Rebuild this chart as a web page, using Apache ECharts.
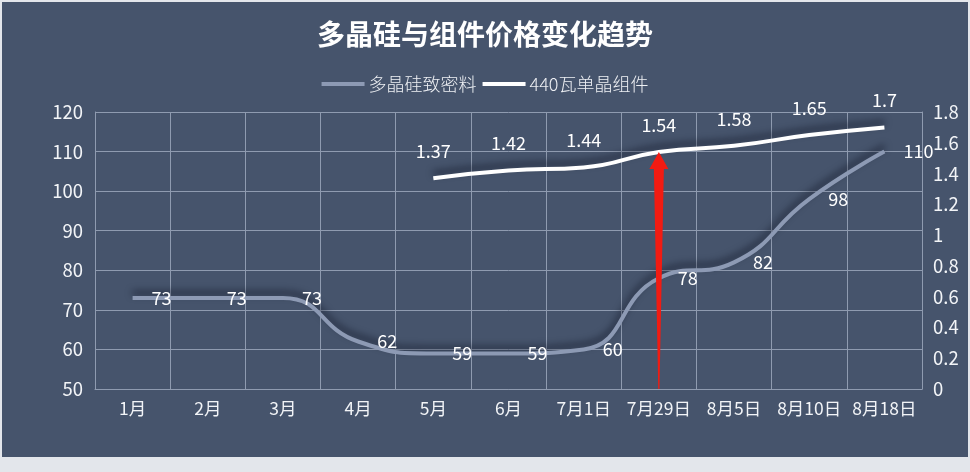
<!DOCTYPE html>
<html>
<head>
<meta charset="utf-8">
<script src="https://cdn.jsdelivr.net/npm/echarts@6/dist/echarts.min.js"></script>
<style>
html,body{margin:0;padding:0;background:#e3e6eb;width:970px;height:472px;overflow:hidden;}
#chart{position:absolute;left:2px;top:2px;width:966px;height:455px;}
</style>
</head>
<body>
<div id="chart"></div>
<script>
const categories = ['1月','2月','3月','4月','5月','6月','7月1日','7月29日','8月5日','8月10日','8月18日'];
const polysilicon = [73,73,73,62,59,59,60,78,82,98,110];
const module440 = [null,null,null,null,1.37,1.42,1.44,1.54,1.58,1.65,1.7];
const leftTicks = {min:50, max:120, interval:10};
const rightTicks = {min:0, max:1.8, interval:0.2};
const arrowMark = ['7月29日', 0, 1.54];

const FONT = '"Noto Sans CJK SC","Noto Sans",sans-serif';
const gridColor = '#8f9bb0';
const chart = echarts.init(document.getElementById('chart'));
chart.setOption({
  backgroundColor:'#46546c',
  textStyle:{fontFamily:FONT},
  title:{
    text:'多晶硅与组件价格变化趋势',
    left:'center', top:13,
    textStyle:{color:'#ffffff',fontSize:28,fontWeight:'bold',fontFamily:FONT}
  },
  legend:{
    data:['多晶硅致密料','440瓦单晶组件'],
    top:68, left:'center',
    icon:'rect', itemWidth:43, itemHeight:4, itemGap:6,
    textStyle:{color:'#eef0f4',fontSize:18,fontWeight:300,fontFamily:FONT,padding:[0,0,0,-1]}
  },
  grid:{left:93,right:46,top:110,bottom:68,containLabel:false},
  xAxis:{
    type:'category', data:categories, boundaryGap:true,
    axisLine:{show:true,lineStyle:{color:gridColor,width:1}},
    axisTick:{show:false},
    axisLabel:{color:'#f2f4f7',fontSize:17.5,margin:11,interval:0,fontFamily:FONT},
    splitLine:{show:true,interval:0,lineStyle:{color:gridColor,width:1}}
  },
  yAxis:[{
    type:'value', min:leftTicks.min, max:leftTicks.max, interval:leftTicks.interval,
    axisLine:{show:true,lineStyle:{color:gridColor}},
    axisTick:{show:false},
    axisLabel:{color:'#f2f4f7',fontSize:18.5,margin:12,fontFamily:FONT},
    splitLine:{show:true,lineStyle:{color:gridColor,width:1}}
  },{
    type:'value', min:rightTicks.min, max:rightTicks.max, interval:rightTicks.interval,
    axisLine:{show:true,lineStyle:{color:gridColor}},
    axisTick:{show:false},
    axisLabel:{color:'#f2f4f7',fontSize:18.5,margin:11,fontFamily:FONT},
    splitLine:{show:false}
  }],
  series:[{
    name:'多晶硅致密料', type:'line', yAxisIndex:0, data:polysilicon,
    smooth:0.5, symbol:'circle', symbolSize:0, showSymbol:true,
    itemStyle:{color:'#8d9ab4'},
    lineStyle:{color:'#8d9ab4',width:4,shadowColor:'rgba(10,15,30,0.6)',shadowBlur:7,shadowOffsetY:-5},
    label:{show:true,position:'right',distance:19,color:'#ffffff',fontSize:18,fontFamily:FONT},
    z:3
  },{
    name:'440瓦单晶组件', type:'line', yAxisIndex:1, data:module440,
    smooth:0.5, symbol:'circle', symbolSize:0, showSymbol:true,
    itemStyle:{color:'#ffffff'},
    lineStyle:{color:'#ffffff',width:4,shadowColor:'rgba(10,15,30,0.6)',shadowBlur:7,shadowOffsetY:-5},
    label:{show:true,position:'top',distance:18,color:'#ffffff',fontSize:18,fontFamily:FONT},
    z:3
  },{
    name:'arrow', type:'custom', xAxisIndex:0, yAxisIndex:1,
    data:[arrowMark], encode:{x:0,y:[1,2]}, z:10, silent:true,
    renderItem:function(params, api){
      const p0 = api.coord([api.value(0), api.value(1)]);
      const p1 = api.coord([api.value(0), api.value(2)]);
      const x = p0[0];
      const headH = 17, headW = 9.5, shaftW = 5;
      const hb = p1[1] + headH;
      return {
        type:'polygon',
        shape:{points:[[x-0.6,p0[1]],[x-shaftW,hb],[x-headW,hb],[x,p1[1]],[x+headW,hb],[x+shaftW,hb],[x+0.6,p0[1]]]},
        style:{fill:'#f21b12'}
      };
    }
  }]
});
</script>
</body>
</html>
